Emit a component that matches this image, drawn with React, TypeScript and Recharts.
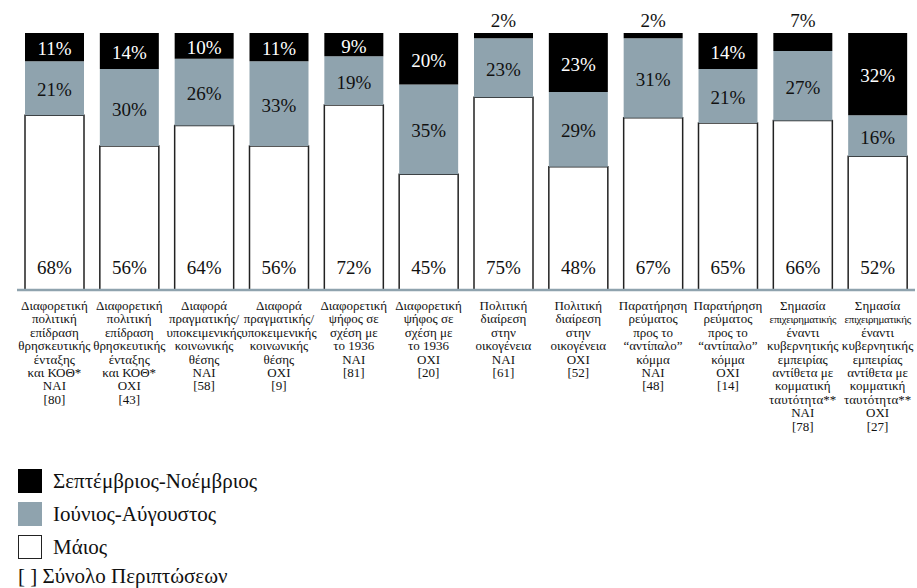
import React from "react";
import { BarChart, Bar, XAxis, YAxis, LabelList } from "recharts";

const categories = [
  "Διαφορετική\nπολιτική\nεπίδραση\nθρησκευτικής\nένταξης\nκαι ΚΟΘ*",
  "Διαφορετική\nπολιτική\nεπίδραση\nθρησκευτικής\nένταξης\nκαι ΚΟΘ*",
  "Διαφορά\nπραγματικής/\nυποκειμενικής\nκοινωνικής\nθέσης",
  "Διαφορά\nπραγματικής/\nυποκειμενικής\nκοινωνικής\nθέσης",
  "Διαφορετική\nψήφος σε\nσχέση με\nτο 1936",
  "Διαφορετική\nψήφος σε\nσχέση με\nτο 1936",
  "Πολιτική\nδιαίρεση\nστην\nοικογένεια",
  "Πολιτική\nδιαίρεση\nστην\nοικογένεια",
  "Παρατήρηση\nρεύματος\nπρος το\n“αντίπαλο”\nκόμμα",
  "Παρατήρηση\nρεύματος\nπρος το\n“αντίπαλο”\nκόμμα",
  "Σημασία\nεπιχειρηματικής\nέναντι\nκυβερνητικής\nεμπειρίας\nαντίθετα με\nκομματική\nταυτότητα**",
  "Σημασία\nεπιχειρηματικής\nέναντι\nκυβερνητικής\nεμπειρίας\nαντίθετα με\nκομματική\nταυτότητα**",
];
const answers = ["ΝΑΙ", "ΟΧΙ", "ΝΑΙ", "ΟΧΙ", "ΝΑΙ", "ΟΧΙ", "ΝΑΙ", "ΟΧΙ", "ΝΑΙ", "ΟΧΙ", "ΝΑΙ", "ΟΧΙ"];
const cases = [80, 43, 58, 9, 81, 20, 61, 52, 48, 14, 78, 27];

const may = [68, 56, 64, 56, 72, 45, 75, 48, 67, 65, 66, 52];
const summer = [21, 30, 26, 33, 19, 35, 23, 29, 31, 21, 27, 16];
const autumn = [11, 14, 10, 11, 9, 20, 2, 23, 2, 14, 7, 32];

const seriesNames = {
  autumn: "Σεπτέμβριος-Νοέμβριος",
  summer: "Ιούνιος-Αύγουστος",
  may: "Μάιος",
};
const casesNote = "[ ] Σύνολο Περιπτώσεων";

const GRAY = "#8fa3ae";
const FONT = "'Liberation Serif', 'DejaVu Serif', serif";

const data = categories.map((c, i) => ({
  name: c,
  idx: i,
  may: may[i],
  summer: summer[i],
  autumn: autumn[i],
}));

const CategoryTick = (props: any) => {
  const { x, y, payload } = props;
  const i = payload.index;
  const lines = String(payload.value).split("\n").concat([answers[i], `[${cases[i]}]`]);
  return (
    <text x={x} y={y} textAnchor="middle" fontFamily={FONT} fontSize={13} fill="#111">
      {lines.map((l, k) => (
        <tspan
          key={k}
          x={x}
          dy={k === 0 ? 12 : 13.4}
          {...(l === "επιχειρηματικής" ? { fontSize: 11, letterSpacing: -0.35 } : {})}
        >
          {l}
        </tspan>
      ))}
    </text>
  );
};

const MayLabel = (props: any) => {
  const { x, y, width, height, value } = props;
  return (
    <text x={x + width / 2} y={y + height - 16} textAnchor="middle" fontFamily={FONT} fontSize={19} fill="#111">
      {value}%
    </text>
  );
};

const SummerLabel = (props: any) => {
  const { x, y, width, height, value } = props;
  return (
    <text x={x + width / 2} y={y + height / 2 + 8} textAnchor="middle" fontFamily={FONT} fontSize={19} fill="#111">
      {value}%
    </text>
  );
};

const AutumnLabel = (props: any) => {
  const { x, y, width, height, value } = props;
  const small = value < 8;
  return (
    <text
      x={x + width / 2}
      y={small ? y - 6 : y + height / 2 + 8}
      textAnchor="middle"
      fontFamily={FONT}
      fontSize={19}
      fill={small ? "#111" : "#fff"}
    >
      {value}%
    </text>
  );
};

const legendItems = [
  { label: seriesNames.autumn, fill: "#000", stroke: "#000" },
  { label: seriesNames.summer, fill: GRAY, stroke: GRAY },
  { label: seriesNames.may, fill: "#fff", stroke: "#222" },
];

export default function App() {
  return (
    <div style={{ position: "absolute", left: 0, top: 0, width: 917, height: 588, background: "#fff", overflow: "hidden" }}>
      <BarChart
        width={917}
        height={450}
        data={data}
        margin={{ top: 33, right: 2, left: 17, bottom: 10 }}
        barSize={59}
      >
        <YAxis hide domain={[0, 100]} type="number" />
        <XAxis
          dataKey="name"
          interval={0}
          tickLine={false}
          axisLine={{ stroke: GRAY, strokeWidth: 2.5 }}
          height={150}
          tick={<CategoryTick />}
        />
        <Bar dataKey="may" stackId="s" fill="#fff" stroke="#222" strokeWidth={1.5} isAnimationActive={false}>
          <LabelList dataKey="may" content={<MayLabel />} />
        </Bar>
        <Bar dataKey="summer" stackId="s" fill={GRAY} isAnimationActive={false}>
          <LabelList dataKey="summer" content={<SummerLabel />} />
        </Bar>
        <Bar dataKey="autumn" stackId="s" fill="#000" isAnimationActive={false}>
          <LabelList dataKey="autumn" content={<AutumnLabel />} />
        </Bar>
      </BarChart>
      <div style={{ position: "absolute", left: 18, top: 464, fontFamily: FONT, fontSize: 21, lineHeight: "24px", color: "#111" }}>
        {legendItems.map((it) => (
          <div key={it.label} style={{ display: "flex", alignItems: "center", height: 33 }}>
            <div
              style={{
                width: it.fill === "#fff" ? 22 : 24,
                height: it.fill === "#fff" ? 22 : 24,
                background: it.fill,
                border: it.fill === "#fff" ? "1px solid #222" : "none",
                marginRight: 11,
              }}
            />
            <span>{it.label}</span>
          </div>
        ))}
        <div style={{ height: 26, display: "flex", alignItems: "center" }}>
          <span>{casesNote}</span>
        </div>
      </div>
    </div>
  );
}
